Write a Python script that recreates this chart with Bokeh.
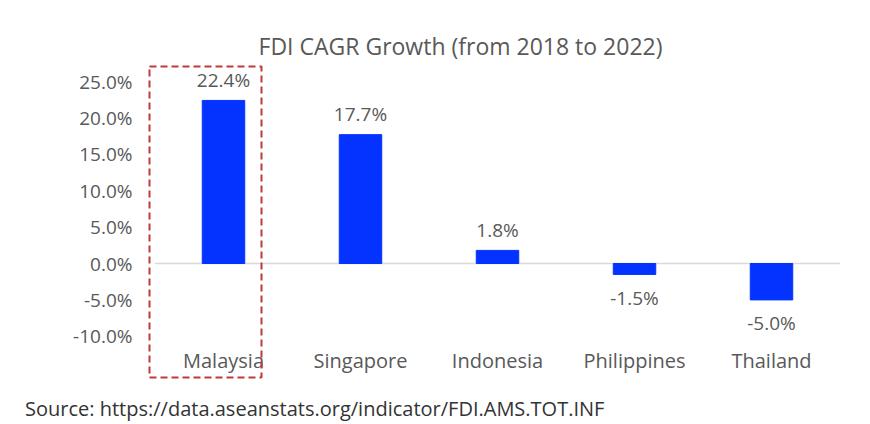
from bokeh.plotting import figure
from bokeh.models import Range1d, FixedTicker, PrintfTickFormatter, Label, ColumnDataSource, Div
from bokeh.layouts import column
from bokeh.core.properties import value
from bokeh.embed import file_html
from bokeh.resources import INLINE

# ---- data ----
countries = ["Malaysia", "Singapore", "Indonesia", "Philippines", "Thailand"]
cagr = [22.4, 17.7, 1.8, -1.5, -5.0]
cagr_labels = ["22.4%", "17.7%", "1.8%", "-1.5%", "-5.0%"]
y_ticks = [-10, -5, 0, 5, 10, 15, 20, 25]
title_text = "FDI CAGR Growth (from 2018 to 2022)"
source_text = "Source: https://data.aseanstats.org/indicator/FDI.AMS.TOT.INF"
highlight = "Malaysia"

FONT = "Open Sans"
GREY = "#595959"
W = 870
FIG_H = 390

# ---- layout geometry (pixels) ----
FL, FR, FT, FB = 140, 850, 25, 390      # frame edges on canvas
ZERO_PX = 263                            # canvas y of value 0
PX_PER_UNIT_Y = 7.28                     # pixels per percentage point
CAT_PX = 137                             # pixels per category
FIRST_CENTER_PX = 223

def y_of(py):
    return (ZERO_PX - py) / PX_PER_UNIT_Y

x_start = -(FIRST_CENTER_PX - FL) / CAT_PX
x_end = x_start + (FR - FL) / CAT_PX

def x_of(px):
    return x_start + (px - FL) / CAT_PX

xs = list(range(len(countries)))
label_y = [v + (2.8 if v >= 0 else -3.2) for v in cagr]
src = ColumnDataSource(dict(x=xs, top=cagr, ly=label_y, lab=cagr_labels,
                            name=countries, cy=[y_of(360)] * len(countries)))

p = figure(width=W, height=FIG_H, x_range=Range1d(x_start, x_end),
           y_range=Range1d(y_of(FB), y_of(FT)), output_backend="svg",
           toolbar_location=None, x_axis_location=None,
           min_border_left=FL, min_border_right=W - FR, min_border_top=FT,
           min_border_bottom=FIG_H - FB)
p.outline_line_color = None

# zero line
p.segment(x0=[xs[0] - 0.5], x1=[xs[-1] + 0.5], y0=[0], y1=[0],
          line_color="#d9d9d9", line_width=1.5)

p.vbar(x="x", top="top", bottom=0, width=0.31, source=src,
       fill_color="#0433FF", line_color="#0433FF")

p.text(x="x", y="ly", text="lab", source=src, text_align="center",
       text_baseline="middle", text_font=value(FONT), text_font_size="19px",
       text_color=GREY)

# category labels
p.text(x="x", y="cy", text="name", source=src, text_align="center",
       text_baseline="middle", text_font=value(FONT), text_font_size="20px",
       text_color=GREY)

# highlight box
hi = countries.index(highlight)
p.quad(left=[xs[hi] + x_of(149) - x_of(FIRST_CENTER_PX)],
       right=[xs[hi] + x_of(261) - x_of(FIRST_CENTER_PX)],
       top=[y_of(66)], bottom=[y_of(377)],
       fill_alpha=0, line_color="#C0393B", line_width=2, line_dash="7 4")

p.yaxis.ticker = FixedTicker(ticks=y_ticks)
p.yaxis.formatter = PrintfTickFormatter(format="%.1f%%")
p.yaxis.axis_line_color = None
p.yaxis.major_tick_line_color = None
p.yaxis.minor_tick_line_color = None
p.yaxis.major_label_text_font = FONT
p.yaxis.major_label_text_font_size = "19px"
p.yaxis.major_label_text_color = GREY
p.yaxis.major_label_standoff = 2

p.xgrid.grid_line_color = None
p.ygrid.grid_line_color = None

p.add_layout(Label(x=x_of(460), y=y_of(45), text=title_text,
                   text_align="center", text_baseline="middle",
                   text_font=FONT, text_font_size="23px", text_color=GREY))

div = Div(text=source_text, width=W - 25, height=424 - FIG_H,
          margin=(5, 0, 0, 25),
          styles={"font-family": FONT, "font-size": "20px", "color": "#333333",
                  "white-space": "nowrap"})

layout = column(p, div, spacing=0)
open("out.html", "w").write(file_html(layout, INLINE))
